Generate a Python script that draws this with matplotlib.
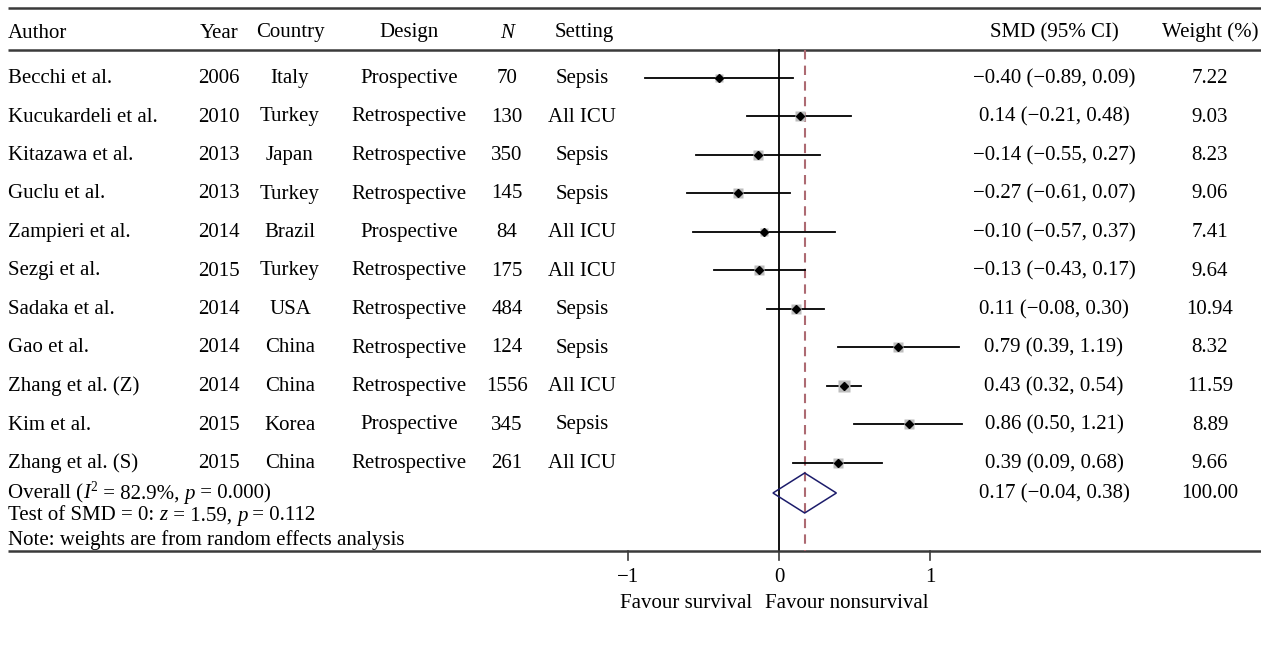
import matplotlib.pyplot as plt
from matplotlib.patches import Polygon

plt.rcParams['font.family'] = ['Liberation Serif', 'DejaVu Serif']

authors = ['Becchi et al.', 'Kucukardeli et al.', 'Kitazawa et al.', 'Guclu et al.',
           'Zampieri et al.', 'Sezgi et al.', 'Sadaka et al.', 'Gao et al.',
           'Zhang et al. (Z)', 'Kim et al.', 'Zhang et al. (S)']
years = [2006, 2010, 2013, 2013, 2014, 2015, 2014, 2014, 2014, 2015, 2015]
countries = ['Italy', 'Turkey', 'Japan', 'Turkey', 'Brazil', 'Turkey', 'USA',
             'China', 'China', 'Korea', 'China']
designs = ['Prospective', 'Retrospective', 'Retrospective', 'Retrospective',
           'Prospective', 'Retrospective', 'Retrospective', 'Retrospective',
           'Retrospective', 'Prospective', 'Retrospective']
n_sizes = [70, 130, 350, 145, 84, 175, 484, 124, 1556, 345, 261]
settings = ['Sepsis', 'All ICU', 'Sepsis', 'Sepsis', 'All ICU', 'All ICU',
            'Sepsis', 'Sepsis', 'All ICU', 'Sepsis', 'All ICU']
smd = [-0.40, 0.14, -0.14, -0.27, -0.10, -0.13, 0.11, 0.79, 0.43, 0.86, 0.39]
ci_low = [-0.89, -0.21, -0.55, -0.61, -0.57, -0.43, -0.08, 0.39, 0.32, 0.50, 0.09]
ci_high = [0.09, 0.48, 0.27, 0.07, 0.37, 0.17, 0.30, 1.19, 0.54, 1.21, 0.68]
weights = [7.22, 9.03, 8.23, 9.06, 7.41, 9.64, 10.94, 8.32, 11.59, 8.89, 9.66]

overall_smd = 0.17
overall_low = -0.04
overall_high = 0.38
overall_weight = 100.00
axis_ticks = [-1, 0, 1]


def fmt(v):
    return f'{v:.2f}'.replace('-', '\u2212')


# layout in pixels: x zero at 779 px, one SMD unit = 151 px
W, H = 1261, 647
X0, UNIT = 779, 151


def px(x):
    return (x - X0) / UNIT


fig = plt.figure(figsize=(W / 100, H / 100), dpi=100)
ax = fig.add_axes([0, 0, 1, 1])
ax.set_xlim(px(0), px(W))
ax.set_ylim(H, 0)
ax.axis('off')

fs = 15
line_c = '#3a3a3a'
BL = 5.5  # baseline sits this many px below the row centre


def txt(x, y, s, ha='center', **kw):
    return ax.text(x, y + BL, s, fontsize=fs, va='baseline', ha=ha, **kw)


def chain(x, y, parts):
    # write text pieces one after another; style 'sup' = superscript
    yb = y + BL
    prev = txt(x, y, parts[0][0], ha='left', style=parts[0][1])
    for s, st in parts[1:]:
        if st == 'sup':
            prev = ax.annotate(s, xy=(1, yb), xycoords=(prev, 'data'),
                               xytext=(0.6, 5.5), textcoords='offset points',
                               fontsize=fs * 0.65, va='baseline', ha='left')
        else:
            prev = ax.annotate(s, xy=(1, yb), xycoords=(prev, 'data'),
                               fontsize=fs, va='baseline', ha='left', style=st)


# table rules
for yy in (8, 50, 551):
    ax.plot([px(8), px(W)], [yy, yy], color=line_c, lw=1.8, solid_capstyle='butt')

# header
hy = 32
txt(px(8), hy, 'Author', ha='left')
txt(px(219), hy, 'Year')
txt(px(290), hy, 'Country')
txt(px(409), hy, 'Design')
txt(px(507), hy, 'N', style='italic')
txt(px(584), hy, 'Setting')
txt(px(1054), hy, 'SMD (95% CI)')
txt(px(1210), hy, 'Weight (%)')

# reference lines
ax.plot([0, 0], [50, 551], color='black', lw=1.3)
ax.plot([overall_smd, overall_smd], [50, 551], color='#ad6a72', lw=1.5,
        dashes=(4.5, 3))

# study rows
for i in range(len(authors)):
    y = 77.5 + 38.5 * i
    txt(px(8), y, authors[i], ha='left')
    txt(px(219), y, str(years[i]))
    txt(px(290), y, countries[i])
    txt(px(409), y, designs[i])
    txt(px(507), y, str(n_sizes[i]))
    txt(px(582), y, settings[i])
    txt(px(1054), y, f'{fmt(smd[i])} ({fmt(ci_low[i])}, {fmt(ci_high[i])})')
    txt(px(1210), y, f'{weights[i]:.2f}')

    ax.plot([ci_low[i], ci_high[i]], [y, y], color='black', lw=1.3, zorder=2)
    ax.plot(smd[i], y, marker='s', color='#bdbdbd', ms=2.35 * weights[i] ** 0.5,
            mec='none', zorder=3)
    ax.plot(smd[i], y, marker='D', color='black', ms=4.5, zorder=4)

# overall
oy = 493
ax.add_patch(Polygon([(overall_low, oy), (overall_smd, oy - 20),
                      (overall_high, oy), (overall_smd, oy + 20)],
                     closed=True, fill=False, edgecolor='#1c1c6b', lw=1.1, zorder=5))
chain(px(8), oy, [('Overall (', 'normal'), ('I', 'italic'), ('2', 'sup'),
                  (' = 82.9%, ', 'normal'), ('p', 'italic'), (' = 0.000)', 'normal')])
txt(px(1054), oy, f'{fmt(overall_smd)} ({fmt(overall_low)}, {fmt(overall_high)})')
txt(px(1210), oy, f'{overall_weight:.2f}')
chain(px(8), 515, [('Test of SMD = 0: ', 'normal'), ('z', 'italic'),
                   (' = 1.59, ', 'normal'), ('p', 'italic'), (' = 0.112', 'normal')])
txt(px(8), 539, 'Note: weights are from random effects analysis', ha='left')

# x axis ticks
for t in axis_ticks:
    ax.plot([t, t], [551, 560], color=line_c, lw=1.2)
    txt(t, 576, fmt(t).replace('.00', ''))

txt(px(686), 603, 'Favour survival')
txt(px(847), 603, 'Favour nonsurvival')

fig.savefig('out.png', dpi=100)
